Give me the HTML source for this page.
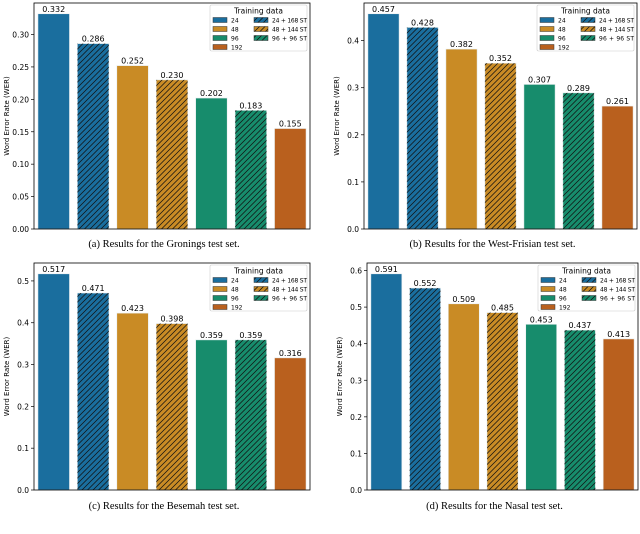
<!DOCTYPE html>
<html><head><meta charset="utf-8"><style>
body{margin:0;background:#fff;width:640px;height:534px;overflow:hidden}
svg{display:block;font-family:"DejaVu Sans","Liberation Sans",sans-serif}
</style></head><body>
<svg id="fig" width="640" height="534" viewBox="0 0 640 534" xmlns="http://www.w3.org/2000/svg">
<defs>
<pattern id="hatch" patternUnits="userSpaceOnUse" width="5.5" height="5.5">
<path d="M-1,6.5 L6.5,-1 M-1,1 L1,-1 M4.5,6.5 L6.5,4.5" stroke="#111" stroke-width="0.75"/>
</pattern>
</defs>
</svg>
<script>
const categories = ["24","24 + 168 ST","48","48 + 144 ST","96","96 + 96 ST","192"];
const groningsValues = [0.332,0.286,0.252,0.230,0.202,0.183,0.155];
const frisianValues = [0.457,0.428,0.382,0.352,0.307,0.289,0.261];
const besemahValues = [0.517,0.471,0.423,0.398,0.359,0.359,0.316];
const nasalValues = [0.591,0.552,0.509,0.485,0.453,0.437,0.413];
const groningsTicks = [0,0.05,0.10,0.15,0.20,0.25,0.30];
const frisianTicks = [0,0.1,0.2,0.3,0.4];
const besemahTicks = [0,0.1,0.2,0.3,0.4,0.5];
const nasalTicks = [0,0.1,0.2,0.3,0.4,0.5,0.6];
const captions = ["(a) Results for the Gronings test set.","(b) Results for the West-Frisian test set.","(c) Results for the Besemah test set.","(d) Results for the Nasal test set."];

const colors=["#1a6e9e","#1a6e9e","#c98b25","#c98b25","#178c6c","#178c6c","#b9601e"];
const hatched=[false,true,false,true,false,true,false];
const NS="http://www.w3.org/2000/svg";
const svg=document.getElementById('fig');
function mk(tag,attrs,parent,text){const e=document.createElementNS(NS,tag);for(const k in attrs)e.setAttribute(k,attrs[k]);if(text!==undefined)e.textContent=text;(parent||svg).appendChild(e);return e;}

const panels=[
 {vals:groningsValues,ticks:groningsTicks,dec:2,L:34,R:310,T:3,B:229,cap:247,name:"gronings"},
 {vals:frisianValues,ticks:frisianTicks,dec:1,L:364,R:637,T:3,B:229,cap:247,name:"west-frisian"},
 {vals:besemahValues,ticks:besemahTicks,dec:1,L:34,R:310,T:263,B:490,cap:509,name:"besemah"},
 {vals:nasalValues,ticks:nasalTicks,dec:1,L:367,R:638,T:263,B:490,cap:509,name:"nasal"}];

panels.forEach((p,pi)=>{
 const g=mk('g',{});
 
 
 const ymax=Math.max(...p.vals)*1.05;
 const y=v=>p.B-(v/ymax)*(p.B-p.T);
 const slot=(p.R-p.L)/categories.length;
 const x=i=>p.L+slot*(i+0.5);
 p.ticks.forEach(t=>{
  const ty=y(t);
  const tl=mk('line',{x1:p.L-3,x2:p.L,y1:ty,y2:ty,stroke:"#000","stroke-width":0.7},g);
  
  
  const tx=mk('text',{x:p.L-5,y:ty+3,"font-size":7.5,"text-anchor":"end"},g,t.toFixed(p.dec));
  
  
 });
 const yl=mk('text',{transform:`translate(${p.L-25},${(p.T+p.B)/2}) rotate(-90)`,"font-size":7,"text-anchor":"middle"},g,"Word Error Rate (WER)");
 
 
 p.vals.forEach((v,i)=>{
  const bw=slot*0.8,bx=x(i)-bw/2,by=y(v);
  const r=mk('rect',{x:bx,y:by,width:bw,height:p.B-by,fill:colors[i],stroke:"#e8eef0","stroke-width":0.6},g);
  
  
  if(hatched[i]){const h=mk('rect',{x:bx,y:by,width:bw,height:p.B-by,fill:"url(#hatch)"},g);
   
   }
  const lb=mk('text',{x:x(i),y:by-2,"font-size":8,"text-anchor":"middle"},g,v.toFixed(3));
  
  
 });
 const fr=mk('rect',{x:p.L,y:p.T,width:p.R-p.L,height:p.B-p.T,fill:"none",stroke:"#000","stroke-width":0.8},g);
 
 
 const lx=p.R-100,ly=p.T+2;
 const lg=mk('g',{},g);
 
 
 mk('rect',{x:lx,y:ly,width:97,height:46,fill:"#fff",stroke:"#ccc","stroke-width":0.6,rx:1.5},lg);
 mk('text',{x:lx+48.5,y:ly+8.5,"font-size":7.5,"text-anchor":"middle"},lg,"Training data");
 const order=[[0,2,4,6],[1,3,5]];
 order.forEach((col,ci)=>col.forEach((idx,ri)=>{
  const ex=lx+3+ci*41,ey=ly+12.5+ri*9;
  const e=mk('g',{},lg);
  
  
  mk('rect',{x:ex,y:ey,width:14,height:5,fill:colors[idx],stroke:"#333","stroke-width":0.5},e);
  if(hatched[idx])mk('rect',{x:ex,y:ey,width:14,height:5,fill:"url(#hatch)"},e);
  const t=mk('text',{x:ex+18,y:ey+5,"font-size":6},e,categories[idx]);
  if(idx%2==1) t.setAttribute('textLength','35');
 }));
 const c=mk('text',{x:(p.L+p.R)/2-8,y:p.cap,"font-size":10.5,"text-anchor":"middle","font-family":"Liberation Serif, serif"},svg,captions[pi]);
 
 
});
</script>
</body></html>
